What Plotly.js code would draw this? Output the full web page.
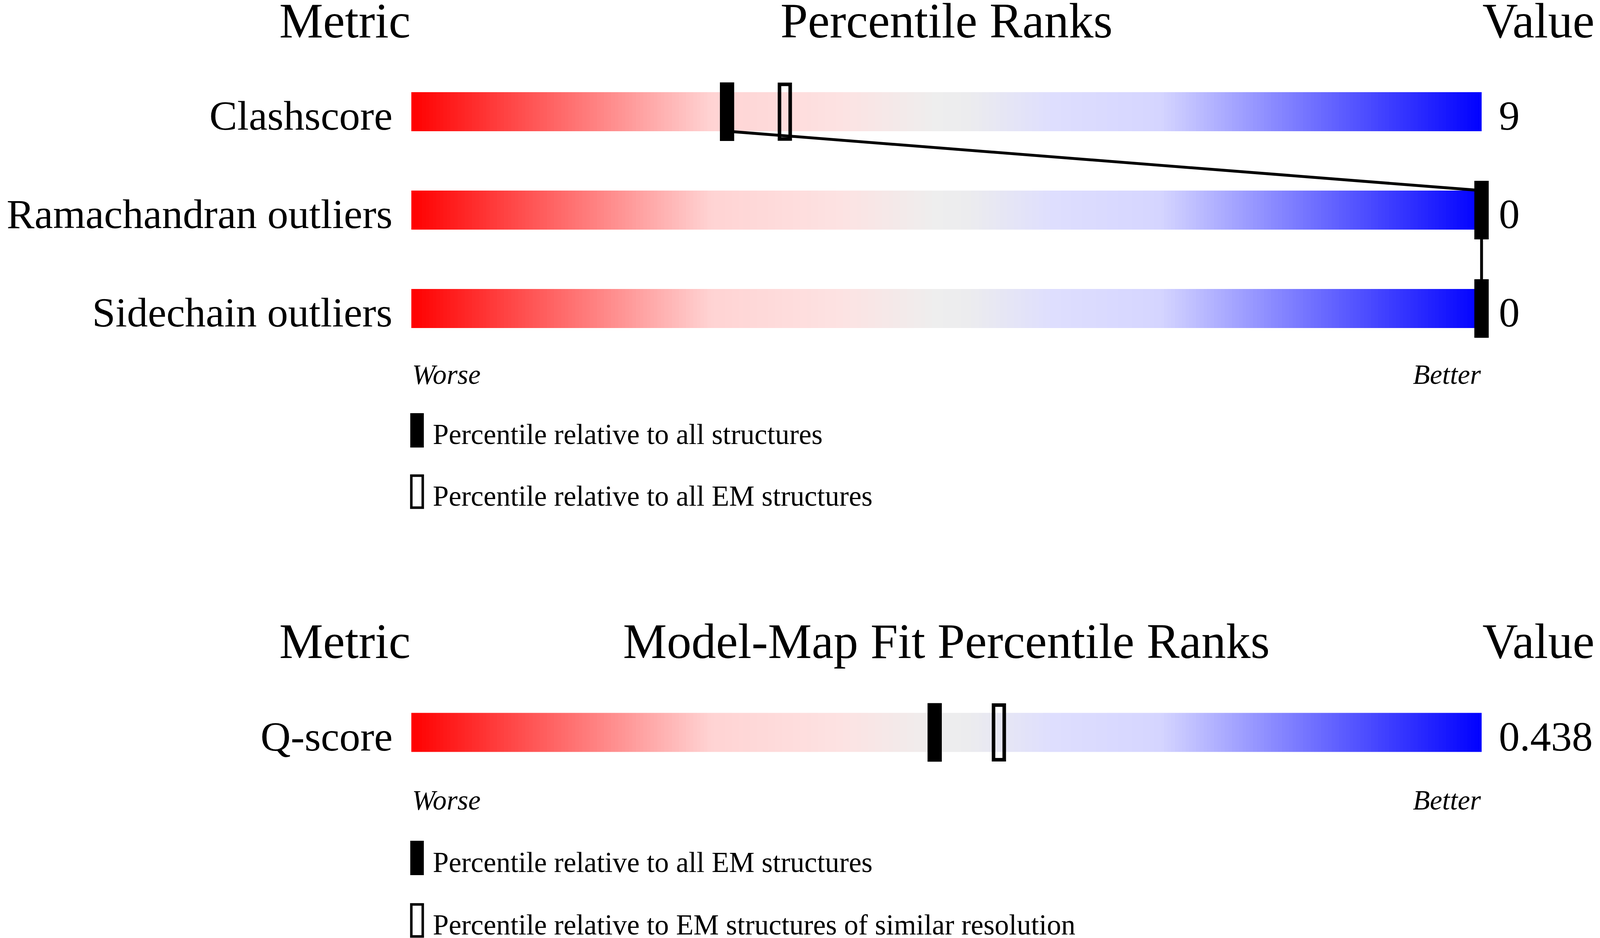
<!DOCTYPE html>
<html>
<head>
<meta charset="utf-8">
<script src="https://cdn.plot.ly/plotly-3.0.1.min.js"></script>
<style>
  html, body { margin: 0; padding: 0; background: #fff; overflow: hidden; }
</style>
</head>
<body>
<div id="chart"></div>
<script>
// --- data ---
const geomMetrics = ['Clashscore', 'Ramachandran outliers', 'Sidechain outliers'];
const geomValues = ['9', '0', '0'];
const geomPctAll = [29.5, 100, 100];     // percentile relative to all structures
const geomPctEM = [34.9, 100, 100];      // percentile relative to all EM structures

const fitMetrics = ['Q-score'];
const fitValues = ['0.438'];
const fitPctEM = [48.9];                 // relative to all EM structures
const fitPctRes = [54.9];                // relative to EM structures of similar resolution

const geomHeaders = ['Metric', 'Percentile Ranks', 'Value'];
const fitHeaders = ['Metric', 'Model-Map Fit Percentile Ranks', 'Value'];
const geomLegend = ['Percentile relative to all structures', 'Percentile relative to all EM structures'];
const fitLegend = ['Percentile relative to all EM structures', 'Percentile relative to EM structures of similar resolution'];

// --- page geometry, worked out on a 4485x2402 page and stretched to the window ---
const W = 4485, H = 2402;
const vw = window.innerWidth || W, vh = window.innerHeight || H;
const sx = vw / W, sy = vh / H;
const BAR_LEFT = 1153, BAR_RIGHT = 4153;
const PX = (BAR_RIGHT - BAR_LEFT) / 100;
const ROW_PX = 252;
const HALF = 50 / ROW_PX;               // half bar height in row units
const FONT = 'Liberation Serif, Times New Roman, serif';
const py = p => 1 - p / H;
const font = (size, extra) => Object.assign({family: FONT, size: size * sx, color: '#000'}, extra || {});

// gradient strip (0..100 percentile scale)
const ramp = Array.from({length: 301}, (_, k) => k / 3);
const rampMid = ramp.slice(1).map((v, k) => (v + ramp[k]) / 2);
const scale = [
  [0, '#ff0000'], [0.28, '#ffd3d3'], [0.40, '#fde2e2'], [0.49, '#eeeeee'],
  [0.52, '#ececee'], [0.60, '#dedefe'], [0.70, '#d5d5ff'], [1, '#0000ff']
];

const traces = [];
const shapes = [];
const annotations = [];

function box(xref, yref, xa, ya, hw, hh, hollow, lw) {
  return {
    type: 'rect', xref: xref, yref: yref, xsizemode: 'pixel', ysizemode: 'pixel',
    xanchor: xa, yanchor: ya, x0: -hw * sx, x1: hw * sx, y0: -hh * sy, y1: hh * sy,
    fillcolor: hollow ? 'rgba(0,0,0,0)' : '#000',
    line: hollow ? {color: '#000', width: lw * sx} : {width: 0}
  };
}

function panel(metrics, values, pctA, pctB, yId, headers, legend, geo) {
  const yref = yId === 'y' ? 'y' : 'y2';
  metrics.forEach((m, i) => {
    traces.push({
      type: 'heatmap', x: ramp, y: [i - HALF, i + HALF], z: [rampMid],
      zmin: 0, zmax: 100, colorscale: scale, showscale: false,
      hoverinfo: 'skip', xaxis: 'x', yaxis: yId
    });
    annotations.push({
      xref: 'x', yref: yref, x: 0, y: i, xanchor: 'right', yanchor: 'middle',
      xshift: -50 * sx, yshift: -11 * sx, text: m, showarrow: false, font: font(117)
    });
    annotations.push({
      xref: 'x', yref: yref, x: 100, y: i, xanchor: 'left', yanchor: 'middle',
      xshift: 46 * sx, yshift: -11 * sx, text: values[i], showarrow: false, font: font(117)
    });
    // hollow marker first, filled one on top
    shapes.push(box('x', yref, pctB[i], i, 15, 70, true, 10));
    shapes.push(box('x', yref, pctA[i], i, 20, 75, false));
  });

  if (metrics.length > 1) {
    const lx = [], ly = [];
    pctA.forEach((p, i) => {
      if (i > 0) { lx.push(p); ly.push(i - HALF); }
      if (i < pctA.length - 1) { lx.push(p); ly.push(i + HALF); }
    });
    traces.push({
      type: 'scatter', mode: 'lines', x: lx, y: ly, xaxis: 'x', yaxis: yId,
      line: {color: '#000', width: 8 * sx}, hoverinfo: 'skip'
    });
  }

  const xs = [0, 50, 100], anc = ['right', 'center', 'left'];
  headers.forEach((t, k) => annotations.push({
    xref: 'x', yref: 'paper', x: xs[k], y: py(geo.header), xanchor: anc[k],
    yanchor: 'middle', text: t, showarrow: false, font: font(138)
  }));

  const iFont = font(78, {style: 'italic'});
  annotations.push({xref: 'x', yref: 'paper', x: 0, y: py(geo.worse), xanchor: 'left',
    yanchor: 'middle', text: 'Worse', showarrow: false, font: iFont});
  annotations.push({xref: 'x', yref: 'paper', x: 100, y: py(geo.worse), xanchor: 'right',
    yanchor: 'middle', text: 'Better', showarrow: false, font: iFont});

  legend.forEach((t, k) => {
    const c = geo.legend[k];
    const glyph = k ? box('x', 'paper', 0, py(c), 16, 41, true, 7) : box('x', 'paper', 0, py(c), 19, 44, false);
    glyph.x0 += 16 * sx; glyph.x1 += 16 * sx;   // glyph sits just inside the bar start
    shapes.push(glyph);
    annotations.push({
      xref: 'x', yref: 'paper', x: 0, y: py(c + 11), xanchor: 'left', yanchor: 'middle',
      xshift: 58 * sx, text: t, showarrow: false, font: font(80)
    });
  });
}

panel(geomMetrics, geomValues, geomPctAll, geomPctEM, 'y', geomHeaders, geomLegend,
  {header: 53, worse: 959, legend: [1102, 1259]});
panel(fitMetrics, fitValues, fitPctEM, fitPctRes, 'y2', fitHeaders, fitLegend,
  {header: 1642, worse: 2049, legend: [2197, 2357]});

const topFirst = 286, botFirst = 1875.5;
const layout = {
  width: vw, height: vh,
  margin: {l: 0, r: 0, t: 0, b: 0, pad: 0},
  paper_bgcolor: '#fff', plot_bgcolor: 'rgba(0,0,0,0)',
  showlegend: false,
  xaxis: {domain: [0, 1], range: [-BAR_LEFT / PX, (W - BAR_LEFT) / PX], visible: false, fixedrange: true},
  yaxis: {
    domain: [py(topFirst + (geomMetrics.length - 0.5) * ROW_PX), py(topFirst - ROW_PX / 2)],
    range: [geomMetrics.length - 0.5, -0.5], visible: false, anchor: 'x'
  },
  yaxis2: {
    domain: [py(botFirst + (fitMetrics.length - 0.5) * ROW_PX), py(botFirst - ROW_PX / 2)],
    range: [fitMetrics.length - 0.5, -0.5], visible: false, anchor: 'x'
  },
  shapes: shapes,
  annotations: annotations
};

Plotly.newPlot('chart', traces, layout, {staticPlot: true, displayModeBar: false});
</script>
</body>
</html>
